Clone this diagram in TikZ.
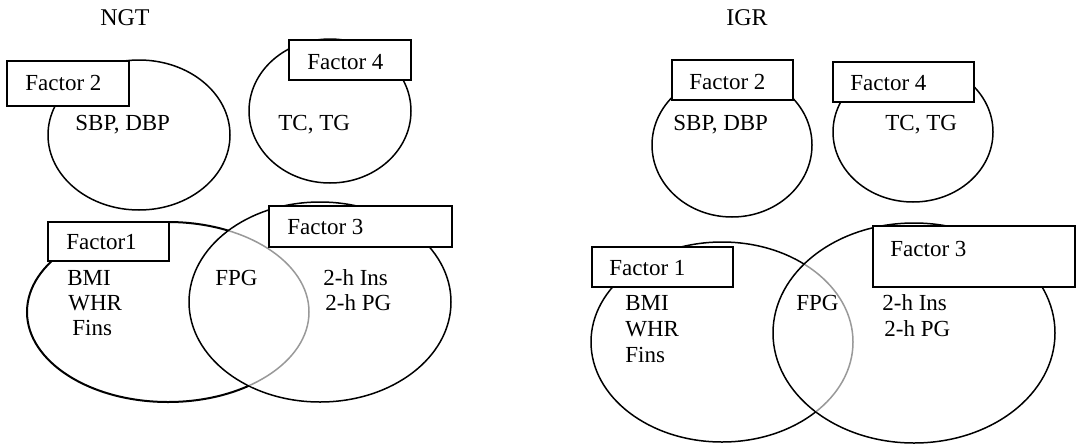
\documentclass[tikz,border=0pt]{standalone}
\usepackage{fontspec}
\setmainfont{Liberation Serif}
\begin{document}
\begin{tikzpicture}[x=0.5pt,y=-0.5pt,
  ell/.style={draw=black,line width=0.75pt},
  greyarc/.style={draw=gray!80,line width=0.75pt},
  fbox/.style={draw=black,fill=white,line width=0.75pt},
  lbl/.style={anchor=west,inner sep=0pt,font=\fontsize{11.5}{13}\selectfont},
  ttl/.style={inner sep=0pt,font=\fontsize{12}{14}\selectfont}]
\useasboundingbox (0,0) rectangle (1076,445);

% ---------------- NGT ----------------
\node[ttl] (ngt) at (125,18) {NGT};
% factor 2
\draw[ell] (139,135) ellipse (91 and 75);
\draw[fbox] (7,61) rectangle (129,106);
\node[lbl] (n2) at (25,83) {Factor 2};
\node[lbl] (n2t) at (75,125) {SBP, DBP};
% factor 4
\draw[ell] (330,111) ellipse (81 and 72);
\draw[fbox] (289,40) rectangle (411,80);
\node[lbl] (n4) at (307,62) {Factor 4};
\node[lbl] (n4t) at (278,125) {TC, TG};
% factor 1 and 3
\draw[ell,line width=1pt] (168,312) ellipse (141 and 90);
\draw[ell] (320,302) ellipse (131 and 100);
\begin{scope}
  \clip (320,302) ellipse (130 and 99);
  \draw[draw=white,line width=2pt] (168,312) ellipse (141 and 90);
  \draw[greyarc] (168,312) ellipse (141 and 90);
\end{scope}
\draw[fbox] (48,222) rectangle (169,261);
\node[lbl] (n1) at (66,242) {Factor1};
\draw[fbox] (269,206) rectangle (452,247);
\node[lbl] (n3) at (287,227) {Factor 3};
\node[lbl] (bmi) at (67,278) {BMI};
\node[lbl] (whr) at (68,303) {WHR};
\node[lbl] (fins) at (72,328) {Fins};
\node[lbl] (fpg) at (215,278) {FPG};
\node[lbl] (ins) at (323,278) {2-h Ins};
\node[lbl] (pg) at (325,303) {2-h PG};

% ---------------- IGR ----------------
\node[ttl] (igr) at (747,18) {IGR};
% factor 2
\draw[ell] (732,145) ellipse (80 and 72);
\draw[fbox] (672,60) rectangle (793,100);
\node[lbl] (m2) at (689,82) {Factor 2};
\node[lbl] (m2t) at (673,125) {SBP, DBP};
% factor 4
\draw[ell] (913,132) ellipse (80 and 70);
\draw[fbox] (833,62) rectangle (974,102);
\node[lbl] (m4) at (850,83) {Factor 4};
\node[lbl] (m4t) at (885,125) {TC, TG};
% factor 1 and 3
\draw[ell] (722,342) ellipse (131 and 100);
\draw[ell] (914,333) ellipse (141 and 110);
\begin{scope}
  \clip (914,333) ellipse (140 and 109);
  \draw[draw=white,line width=2pt] (722,342) ellipse (131 and 100);
  \draw[greyarc] (722,342) ellipse (131 and 100);
\end{scope}
\draw[fbox] (592,247) rectangle (733,287);
\node[lbl] (m1) at (609,268) {Factor 1};
\draw[fbox] (873,226) rectangle (1075,287);
\node[lbl] (m3) at (890,249) {Factor 3};
\node[lbl] (mbmi) at (625,303) {BMI};
\node[lbl] (mwhr) at (625,329) {WHR};
\node[lbl] (mfins) at (625,355) {Fins};
\node[lbl] (mfpg) at (796,303) {FPG};
\node[lbl] (mins) at (882,303) {2-h Ins};
\node[lbl] (mpg) at (884,329) {2-h PG};
\end{tikzpicture}
\end{document}
